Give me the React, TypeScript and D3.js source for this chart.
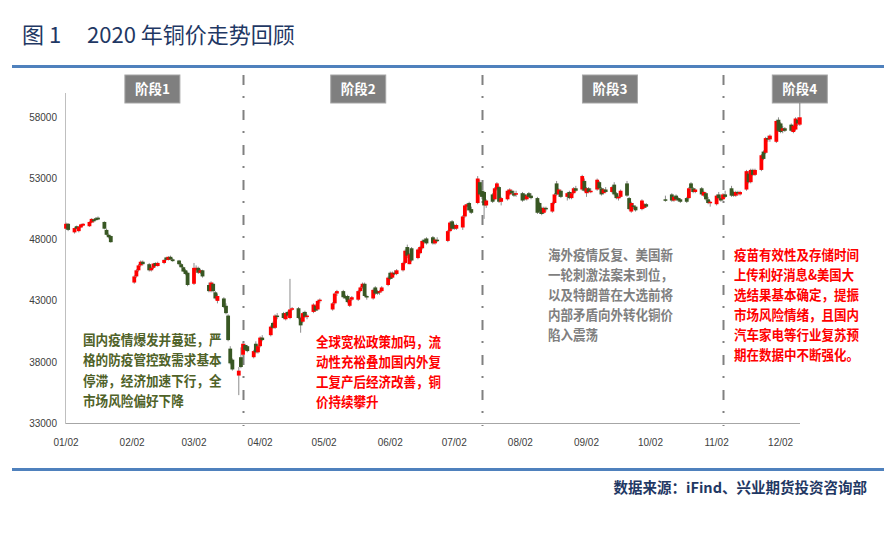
import React from 'react';
import * as d3 from 'd3';

// ---------- data (SHFE copper, 2020, daily) ----------
const dates = [
  // Jan
  '01-02','01-03','01-06','01-07','01-08','01-09','01-10','01-13','01-14','01-15','01-16','01-17','01-20','01-21','01-22','01-23',
  // Feb
  '02-03','02-04','02-05','02-06','02-07','02-10','02-11','02-12','02-13','02-14','02-17','02-18','02-19','02-20','02-21','02-24','02-25','02-26','02-27','02-28',
  // Mar
  '03-02','03-03','03-04','03-05','03-06','03-09','03-10','03-11','03-12','03-13','03-16','03-17','03-18','03-19','03-20','03-23','03-24','03-25','03-26','03-27','03-30','03-31',
  // Apr
  '04-01','04-02','04-03','04-07','04-08','04-09','04-10','04-13','04-14','04-15','04-16','04-17','04-20','04-21','04-22','04-23','04-24','04-27','04-28','04-29','04-30',
  // May
  '05-06','05-07','05-08','05-11','05-12','05-13','05-14','05-15','05-18','05-19','05-20','05-21','05-22','05-25','05-26','05-27','05-28','05-29',
  // Jun
  '06-01','06-02','06-03','06-04','06-05','06-08','06-09','06-10','06-11','06-12','06-15','06-16','06-17','06-18','06-19','06-22','06-23','06-24','06-29','06-30',
  // Jul
  '07-01','07-02','07-03','07-06','07-07','07-08','07-09','07-10','07-13','07-14','07-15','07-16','07-17','07-20','07-21','07-22','07-23','07-24','07-27','07-28','07-29','07-30','07-31',
  // Aug
  '08-03','08-04','08-05','08-06','08-07','08-10','08-11','08-12','08-13','08-14','08-17','08-18','08-19','08-20','08-21','08-24','08-25','08-26','08-27','08-28','08-31',
  // Sep
  '09-01','09-02','09-03','09-04','09-07','09-08','09-09','09-10','09-11','09-14','09-15','09-16','09-17','09-18','09-21','09-22','09-23','09-24','09-25','09-28','09-29','09-30',
  // Oct
  '10-09','10-12','10-13','10-14','10-15','10-16','10-19','10-20','10-21','10-22','10-23','10-26','10-27','10-28','10-29','10-30',
  // Nov
  '11-02','11-03','11-04','11-05','11-06','11-09','11-10','11-11','11-12','11-13','11-16','11-17','11-18','11-19','11-20','11-23','11-24','11-25','11-26','11-27','11-30',
  // Dec
  '12-01','12-02','12-03','12-04','12-07','12-08','12-09','12-10','12-11',
];

const opens = [
  48900,49300,48600,49100,48700,49000,49150,49100,49400,49650,49750,49800,49450,48800,48400,48300,
  44500,45000,45500,45900,46200,46000,45500,45700,46100,45850,46100,46550,46350,46600,46400,46300,46000,45750,45500,45300,
  44400,45500,45700,45300,45500,44300,43800,44400,43700,43000,43200,42600,41800,39100,38200,36900,38400,38600,39400,39300,38400,39500,
  38800,39300,40000,40200,41200,40800,41800,42000,41500,42100,41600,42300,42400,41600,41300,42100,41700,42100,42600,42300,43000,
  42300,42800,43600,43800,43400,43400,42600,43100,43100,43800,44100,44400,43400,43200,44100,43800,43700,43800,
  44300,45300,44900,45300,45200,45500,46100,47400,46000,47300,46500,46900,47300,48000,48100,48200,47700,48000,47900,48700,
  49500,49200,48900,49000,49900,50700,51000,50500,51000,52700,52000,51900,50800,51700,51300,52100,52300,51100,51300,51700,52000,51800,51700,
  51800,51700,51300,51800,51600,51400,51000,50600,50200,50600,50300,51000,52600,51700,52000,51500,51900,51400,51800,52200,52100,
  52800,51800,52200,51900,52100,52700,52200,51800,52100,51900,52500,51800,51400,51500,52600,51400,50300,50800,50700,50500,50600,50900,
  51300,51700,51200,51600,51400,51300,51400,51400,52600,52200,51900,52200,51600,51800,51300,51000,
  50900,51700,51400,51300,51700,52200,51900,51600,51900,51700,52100,53400,52700,53700,53300,53700,55200,55100,56300,56200,56000,
  57800,57500,56900,57100,57400,56800,57000,57800,57400,
];

const highs = [
  49400,49350,49000,49150,49100,49300,49350,49500,49750,49700,49850,49900,49500,48900,48500,48350,
  45100,45600,46000,46300,46300,46100,45800,46100,46150,46200,46400,46600,46650,46700,46500,46350,46100,45800,45600,45400,
  46100,45900,45800,45600,45550,44500,44600,44500,43800,43600,43300,42800,41900,39300,38300,37600,39200,39600,39500,39400,39000,39700,
  39400,40100,40200,41000,41300,41900,42000,42100,42100,42200,44800,42500,42500,41700,42100,42200,41900,42800,42700,43100,43200,
  42900,43700,43900,43900,43500,43500,43200,43400,43900,44200,44500,44500,43500,44000,44200,43900,43900,44200,
  45000,45400,45400,45500,45600,46200,47200,47600,46900,47400,47300,47500,48000,48100,48200,48300,48100,48200,48800,49500,
  49600,49300,49300,50000,50900,51000,51100,50700,53200,52900,52400,52000,51300,51800,52300,52700,52400,51500,52100,52200,52100,52000,52000,
  51900,51800,51700,51900,51800,51500,51100,50700,50700,50700,51100,51800,52800,52200,52100,51900,52000,51900,52300,52400,53300,
  53000,52300,52300,52200,53000,52800,52300,52200,52300,52400,52700,51900,51600,52100,52800,51500,51100,51000,50800,51300,51000,51000,
  51600,51800,51600,51700,51500,51400,51500,52300,52700,52300,52200,52300,52000,51900,51500,51200,
  51700,51900,51600,51800,52000,52400,52000,52000,52000,52000,53700,53600,53800,53800,53800,55000,55300,56400,56500,56600,57800,
  58000,57600,57300,57200,57500,57400,58000,58000,58100,
];

const lows = [
  48850,48700,48500,48850,48600,48950,49100,49050,49350,49400,49550,49600,48850,48350,48100,47750,
  44400,44900,45400,45800,45900,45400,45400,45600,45800,45800,46000,46300,46300,46350,46200,45900,45700,45350,45100,44200,
  44300,45300,45200,45200,44900,43700,43700,43700,43100,42800,42400,41900,39700,37800,37300,35300,37500,38500,38900,38800,38300,38700,
  38700,39200,39700,40100,40700,40700,41500,41500,41400,41700,41500,42200,41500,40400,41200,41600,41500,42000,42100,42200,42800,
  42200,42700,43400,43200,43100,42800,42500,43000,43000,43700,44000,43300,43100,43100,43500,43500,43500,43700,
  44200,44700,44800,45100,45100,45400,46000,46500,46000,46200,46400,46800,47200,47700,47600,47600,47600,47800,47800,48600,
  48800,48800,48800,48800,49800,50400,50300,50100,50900,51600,51300,49700,50600,51000,51200,52000,51000,50800,51200,51600,51700,51500,51500,
  51100,51200,51200,51400,51300,50100,50100,50000,50100,50300,50200,50900,51600,51500,51400,51200,51300,51300,51700,51900,52000,
  51900,51500,51800,51800,52000,52100,51600,51700,51800,51800,51600,51300,51200,51400,51500,50400,50200,50500,50300,50400,50500,50600,
  51100,51100,51100,51200,51100,51000,51000,51300,52100,51800,51800,51600,51500,51200,50900,50700,
  50800,51300,51100,51200,51400,51500,51500,51500,51600,51600,52000,52600,52600,53200,53200,53600,54500,55000,56000,56000,55900,
  56800,56700,56700,56800,56800,56700,56900,57300,57300,
];

const closes = [
  49300,48800,48950,48900,49050,49250,49300,49450,49700,49500,49600,49650,48900,48400,48200,47800,
  45000,45500,45900,46200,46000,45500,45700,46050,45850,46100,46350,46350,46600,46400,46250,46000,45750,45400,45200,44300,
  45700,45700,45300,45500,45000,43800,44500,43800,43200,43400,42500,42000,39800,37900,37400,37300,37600,39500,39000,38900,38900,38800,
  39300,40000,39800,40900,40800,41800,41700,41600,42000,41800,42300,42400,41600,41000,42000,41700,41800,42700,42200,43000,43100,
  42800,43600,43800,43300,43200,42900,43100,43300,43800,44100,44400,43400,43300,43900,43600,43600,43800,44100,
  44900,44800,45300,45200,45500,46100,47100,46700,46800,46300,47200,47400,47900,47800,47700,47700,48000,47900,48700,49400,
  48900,48900,49200,49900,50800,50900,50400,50200,53000,51700,51500,50800,51200,51100,52200,52600,51100,51400,52000,52100,51800,51600,51800,
  51200,51300,51600,51500,51400,50200,50300,50100,50600,50500,51000,51700,51700,52100,51500,51800,51400,51800,52200,52000,53200,
  52000,52200,51900,52000,52900,52200,51700,52100,51900,52300,51700,51400,51500,52000,51600,50500,51000,50700,50400,51200,50900,50700,
  51200,51200,51500,51300,51200,51100,51100,52200,52200,51900,52100,51700,51900,51300,51000,51100,
  51600,51400,51200,51700,51500,51600,51600,51900,51800,51900,53600,52700,53700,53300,53700,54900,54600,56300,56200,56500,57700,
  56900,56800,57100,56900,56900,57300,57900,57500,58000,
];

const yTicks = [33000, 38000, 43000, 48000, 53000, 58000];
const xTickDates = ['01-02','02-02','03-02','04-02','05-02','06-02','07-02','08-02','09-02','10-02','11-02','12-02'];
const phaseNames = ['阶段1', '阶段2', '阶段3', '阶段4'];
const phaseCenters = ['02-11T12:00', '05-18', '09-13', '12-11'];
const phaseDividers = ['03-25', '07-15', '11-05'];

const phase1Text = ['国内疫情爆发并蔓延，严', '格的防疫管控致需求基本', '停滞，经济加速下行，全', '市场风险偏好下降'];
const phase2Text = ['全球宽松政策加码，流', '动性充裕叠加国内外复', '工复产后经济改善，铜', '价持续攀升'];
const phase3Text = ['海外疫情反复、美国新', '一轮刺激法案未到位，', '以及特朗普在大选前将', '内部矛盾向外转化铜价', '陷入震荡'];
const phase4Text = ['疫苗有效性及存储时间', '上传利好消息&美国大', '选结果基本确定，提振', '市场风险情绪，且国内', '汽车家电等行业复苏预', '期在数据中不断强化。'];

const W = 884;
const H = 538;
const CJK = '"Noto Sans CJK SC", "Noto Sans", sans-serif';
const LAT = '"Liberation Sans", Arial, sans-serif';

const parse = (s: string) => new Date(`2020-${s}${s.includes('T') ? '' : 'T00:00:00'}`);

const x = d3.scaleTime().domain([parse('01-02'), parse('12-02')]).range([66, 780.6]);
const y = d3.scaleLinear().domain([33000, 58000]).range([423.3, 117.3]);

const lineWidth = (t: string, cw: number) =>
  Array.from(t).reduce((s, ch) => s + (ch.charCodeAt(0) < 128 ? cw * 0.6 : cw), 0);

function Block({ lines, x0, y0, color, step = 20, cw = 12.5 }: { lines: string[]; x0: number; y0: number; color: string; step?: number; cw?: number }) {
  return (
    <g>
      {lines.map((t, i) => (
        <text
          key={i}
          x={x0}
          y={y0 + i * step + 5.2}
          fontSize={13.8}
          fontWeight={700}
          fontFamily={CJK}
          fill={color}
          textLength={lineWidth(t, cw)}
          lengthAdjust="spacingAndGlyphs"
        >
          {t}
        </text>
      ))}
    </g>
  );
}

export default function App() {
  const bw = 3.8;
  const lastX = x(parse(dates[dates.length - 1]));
  const lastHigh = y(highs[highs.length - 1]);
  return (
    <svg width={W} height={H} style={{ position: 'absolute', left: 0, top: 0, background: '#fff' }}>
      {/* title */}
      <text x={22} y={43} fontSize={22} fontFamily={CJK} fill="#1f3864">图 1</text>
      <text x={87} y={43} fontSize={22} fontFamily={CJK} fill="#1f3864">2020 年铜价走势回顾</text>
      <line x1={12} x2={884} y1={66.5} y2={66.5} stroke="#4f81bd" strokeWidth={3} />
      <line x1={12} x2={884} y1={469.5} y2={469.5} stroke="#4f81bd" strokeWidth={3} />
      <text x={867} y={493} textAnchor="end" fontSize={14.5} fontWeight={700} fontFamily={CJK} fill="#1f3864">
        数据来源：iFind、兴业期货投资咨询部
      </text>

      {/* axes */}
      <line x1={65.5} x2={65.5} y1={93} y2={423.5} stroke="#bfbfbf" strokeWidth={1} />
      <line x1={65.5} x2={800} y1={423.5} y2={423.5} stroke="#a6a6a6" strokeWidth={1.2} />
      {yTicks.map((v) => (
        <text key={v} x={57} y={y(v) + 3.5} textAnchor="end" fontSize={10} fontFamily={LAT} fill="#404040">
          {v}
        </text>
      ))}
      {xTickDates.map((d) => (
        <text key={d} x={x(parse(d))} y={445.5} textAnchor="middle" fontSize={10} fontFamily={LAT} fill="#404040">
          {d.replace('-', '/')}
        </text>
      ))}

      {/* phase dividers */}
      {phaseDividers.map((d) => {
        const px = Math.round(x(parse(d))) + 0.5;
        return (
          <line key={d} x1={px} x2={px} y1={75} y2={426} stroke="#808080" strokeWidth={2} strokeDasharray="10,11,2,12" />
        );
      })}

      {/* candles: wicks then bodies */}
      {dates.map((d, i) => {
        const cx = x(parse(d));
        return <line key={'w' + i} x1={cx} x2={cx} y1={y(highs[i])} y2={y(lows[i])} stroke="#8c8c8c" strokeWidth={1} />;
      })}
      {dates.map((d, i) => {
        const cx = x(parse(d));
        const o = opens[i];
        const c = closes[i];
        const top = y(Math.max(o, c));
        const h = Math.max(1.5, Math.abs(y(o) - y(c)));
        return <rect key={'b' + i} x={cx - bw / 2} y={top} width={bw} height={h} fill={c >= o ? '#ff0000' : '#385723'} />;
      })}

      {/* phase labels */}
      {phaseNames.map((n, i) => {
        const cx = x(parse(phaseCenters[i]));
        return (
          <g key={n}>
            <rect x={cx - 27.5} y={75} width={55} height={28} fill="#7f7f7f" stroke="#a6a6a6" strokeWidth={1} />
            <text x={cx} y={94} textAnchor="middle" fontSize={13.5} fontWeight={700} fontFamily={CJK} fill="#ffffff">
              {n}
            </text>
          </g>
        );
      })}
      <line x1={lastX} x2={lastX} y1={103} y2={lastHigh} stroke="#808080" strokeWidth={1} />

      {/* annotations */}
      <Block lines={phase1Text} x0={83} y0={340} color="#4f6228" step={20.2} cw={12.6} />
      <Block lines={phase2Text} x0={316} y0={341.7} color="#ff0000" />
      <Block lines={phase3Text} x0={548} y0={255} color="#7f7f7f" />
      <Block lines={phase4Text} x0={734} y0={255} color="#ff0000" />
    </svg>
  );
}
